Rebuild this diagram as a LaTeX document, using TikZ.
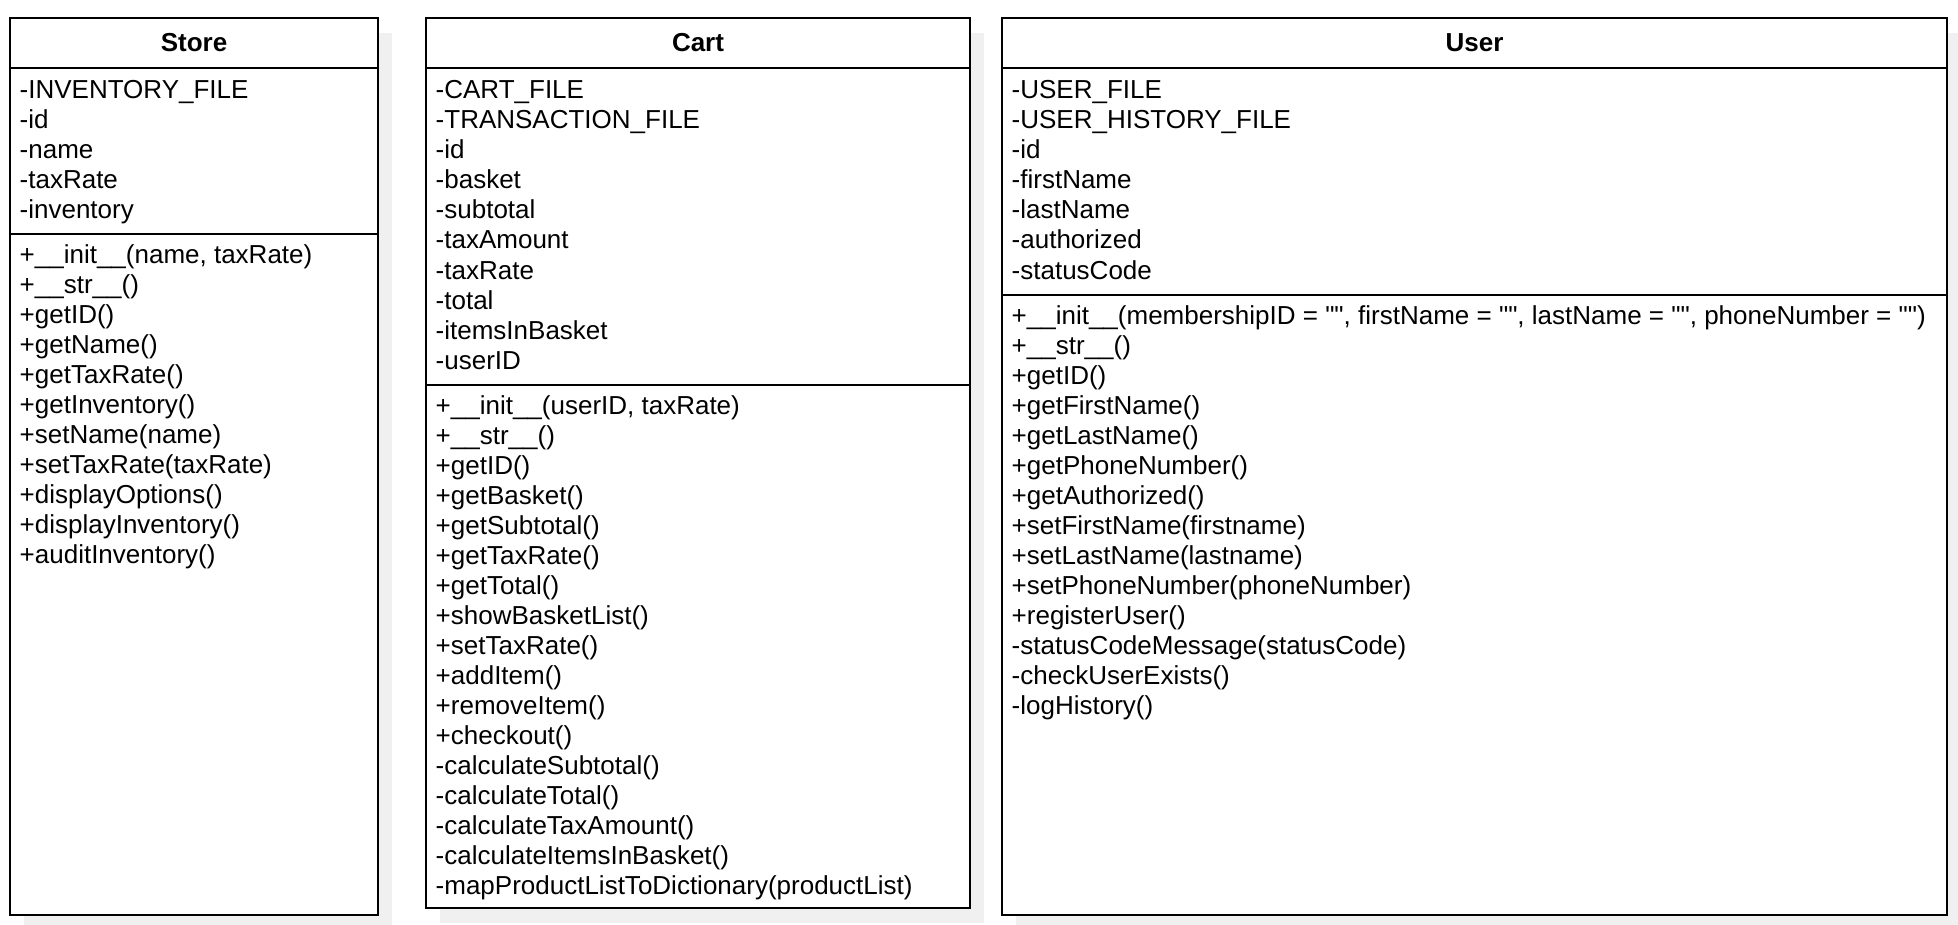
\documentclass[tikz,border=0pt]{standalone}
\usepackage{fontspec}
\setmainfont{Liberation Sans}
\newcommand{\dq}{\textquotedbl}
\begin{document}
\begin{tikzpicture}[x=1pt,y=-1pt,
  shadowfill/.style={fill=black!6,draw=none},
  classbox/.style={draw=black,line width=2.7pt,fill=white,rectangle,inner sep=0pt,outer sep=0pt,anchor=north west},
  sepline/.style={draw=black,line width=2.7pt},
  classtitle/.style={font=\fontsize{26}{30}\selectfont\bfseries,inner sep=0pt,anchor=base},
  item/.style={font=\fontsize{26}{30}\selectfont,inner sep=0pt,anchor=base west}]
\useasboundingbox (0,0) rectangle (1958,925);
% shadows
\fill[shadowfill] (24,33) rectangle (392,925);
\fill[shadowfill] (440,33) rectangle (984,923);
\fill[shadowfill] (1016,33) rectangle (1958,925);
% boxes
\node[classbox,minimum width=368pt,minimum height=897pt] (store) at (10,18) {};
\node[classbox,minimum width=544pt,minimum height=890pt] (cart) at (426,18) {};
\node[classbox,minimum width=945pt,minimum height=897pt] (user) at (1002,18) {};
% separators
\draw[sepline] ([yshift=-50pt]store.north west) -- ([yshift=-50pt]store.north east);
\draw[sepline] ([yshift=-216pt]store.north west) -- ([yshift=-216pt]store.north east);
\draw[sepline] ([yshift=-50pt]cart.north west) -- ([yshift=-50pt]cart.north east);
\draw[sepline] ([yshift=-367pt]cart.north west) -- ([yshift=-367pt]cart.north east);
\draw[sepline] ([yshift=-50pt]user.north west) -- ([yshift=-50pt]user.north east);
\draw[sepline] ([yshift=-277pt]user.north west) -- ([yshift=-277pt]user.north east);
% titles
\node[classtitle] (storetitle) at (194,52) {Store};
\node[classtitle] (carttitle) at (698,52) {Cart};
\node[classtitle] (usertitle) at (1474.5,52) {User};
% Store
\foreach \t [count=\i from 0] in {-INVENTORY\_FILE,-id,-name,-taxRate,-inventory}
  \node[item] (store-a-\i) at (19.5,99+30*\i) {\t};
\foreach \t [count=\i from 0] in {{+\_\_init\_\_(name, taxRate)},+\_\_str\_\_(),+getID(),+getName(),+getTaxRate(),+getInventory(),+setName(name),+setTaxRate(taxRate),+displayOptions(),+displayInventory(),+auditInventory()}
  \node[item] (store-m-\i) at (19.5,263.5+30*\i) {\t};
% Cart
\foreach \t [count=\i from 0] in {-CART\_FILE,-TRANSACTION\_FILE,-id,-basket,-subtotal,-taxAmount,-taxRate,-total,-itemsInBasket,-userID}
  \node[item] (cart-a-\i) at (435.5,99+30*\i) {\t};
\foreach \t [count=\i from 0] in {{+\_\_init\_\_(userID, taxRate)},+\_\_str\_\_(),+getID(),+getBasket(),+getSubtotal(),+getTaxRate(),+getTotal(),+showBasketList(),+setTaxRate(),+addItem(),+removeItem(),+checkout(),-calculateSubtotal(),-calculateTotal(),-calculateTaxAmount(),-calculateItemsInBasket(),-mapProductListToDictionary(productList)}
  \node[item] (cart-m-\i) at (435.5,414.5+30*\i) {\t};
% User
\foreach \t [count=\i from 0] in {-USER\_FILE,-USER\_HISTORY\_FILE,-id,-firstName,-lastName,-authorized,-statusCode}
  \node[item] (user-a-\i) at (1011.5,99+30*\i) {\t};
\foreach \t [count=\i from 0] in {{+\_\_init\_\_(membershipID = \dq\dq, firstName = \dq\dq, lastName = \dq\dq, phoneNumber = \dq\dq)},+\_\_str\_\_(),+getID(),+getFirstName(),+getLastName(),+getPhoneNumber(),+getAuthorized(),+setFirstName(firstname),+setLastName(lastname),+setPhoneNumber(phoneNumber),+registerUser(),-statusCodeMessage(statusCode),-checkUserExists(),-logHistory()}
  \node[item] (user-m-\i) at (1011.5,324.5+30*\i) {\t};
\end{tikzpicture}
\end{document}
